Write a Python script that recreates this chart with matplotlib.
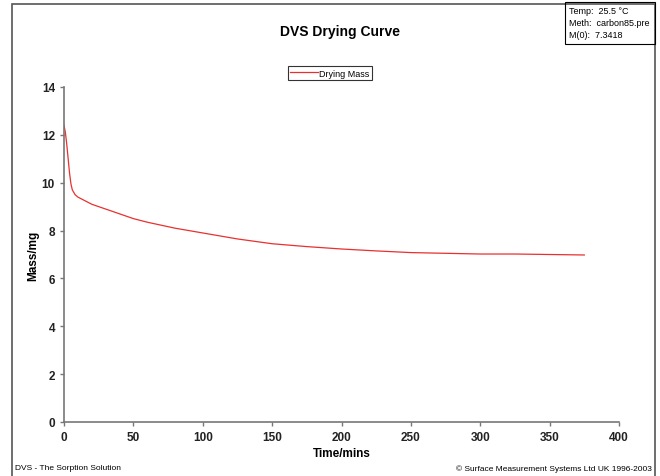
import matplotlib
matplotlib.use("Agg")
import matplotlib.pyplot as plt
from matplotlib.patches import Rectangle

plt.rcParams["font.family"] = ["Liberation Sans", "DejaVu Sans"]

# Drying curve
time_mins = [0, 1, 2, 3, 4, 5, 6, 7, 8, 10, 15, 20, 30, 40, 50, 60, 80,
             100, 125, 150, 175, 200, 225, 250, 275, 300, 325, 350, 375]
mass_mg = [12.4, 12.1, 11.6, 11.0, 10.4, 9.95, 9.7, 9.6, 9.5, 9.4, 9.25,
           9.1, 8.9, 8.7, 8.5, 8.35, 8.1, 7.9, 7.65, 7.45, 7.33, 7.23,
           7.15, 7.08, 7.05, 7.02, 7.02, 7.0, 6.98]

x_ticks = [0, 50, 100, 150, 200, 250, 300, 350, 400]
y_ticks = [0, 2, 4, 6, 8, 10, 12, 14]

info_lines = ["Temp:  25.5 °C", "Meth:  carbon85.pre", "M(0):  7.3418"]

fig = plt.figure(figsize=(6.6, 4.77), dpi=100)
fig.patch.set_facecolor("white")

# outer frame
fig.patches.append(Rectangle((12 / 660, -0.01), 643 / 660, 1 - 5 / 477 + 0.01,
                             transform=fig.transFigure, fill=False,
                             edgecolor="#555555", linewidth=1.2))

ax = fig.add_axes([64 / 660, 1 - 423 / 477, 555 / 660, 335 / 477])
ax.plot(time_mins, mass_mg, color="#e8312f", linewidth=0.9, label="Drying Mass")

ax.set_xlim(0, 400)
ax.set_ylim(0, 14)
ax.set_xticks(x_ticks)
ax.set_yticks(y_ticks)
for side in ["top", "right"]:
    ax.spines[side].set_visible(False)
for side in ["left", "bottom"]:
    ax.spines[side].set_color("#777777")
    ax.spines[side].set_linewidth(1.2)
ax.tick_params(colors="#777777", length=3, width=1, labelcolor="#222222",
               labelsize=8.5)
for lbl in ax.get_xticklabels() + ax.get_yticklabels():
    lbl.set_fontweight("bold")

ax.set_xlabel("Time/mins", fontsize=8.5, fontweight="bold", labelpad=3)
ax.set_ylabel("Mass/mg", fontsize=8.5, fontweight="bold", labelpad=2)

leg = ax.legend(loc="upper center", bbox_to_anchor=(266 / 555, 1.075),
                fontsize=6.5, frameon=True, fancybox=False, handlelength=3,
                borderpad=0.25, handletextpad=0.2)
leg.get_frame().set_edgecolor("black")
leg.get_frame().set_linewidth(0.8)

fig.text(340 / 660, 1 - 32 / 477, "DVS Drying Curve", ha="center",
         va="center", fontsize=10, fontweight="bold")

# info box top right
fig.patches.append(Rectangle((565 / 660, 1 - 45 / 477), 90 / 660, 42 / 477,
                             transform=fig.transFigure, fill=False,
                             edgecolor="black", linewidth=0.8))
for i, line in enumerate(info_lines):
    fig.text(569 / 660, 1 - (11 + i * 12) / 477, line, ha="left",
             va="center", fontsize=6.5)

fig.text(15 / 660, 1 - 469 / 477, "DVS - The Sorption Solution", ha="left",
         va="center", fontsize=6)
fig.text(652 / 660, 1 - 469 / 477,
         "© Surface Measurement Systems Ltd UK 1996-2003", ha="right",
         va="center", fontsize=6)

fig.savefig("out.png", dpi=100)
